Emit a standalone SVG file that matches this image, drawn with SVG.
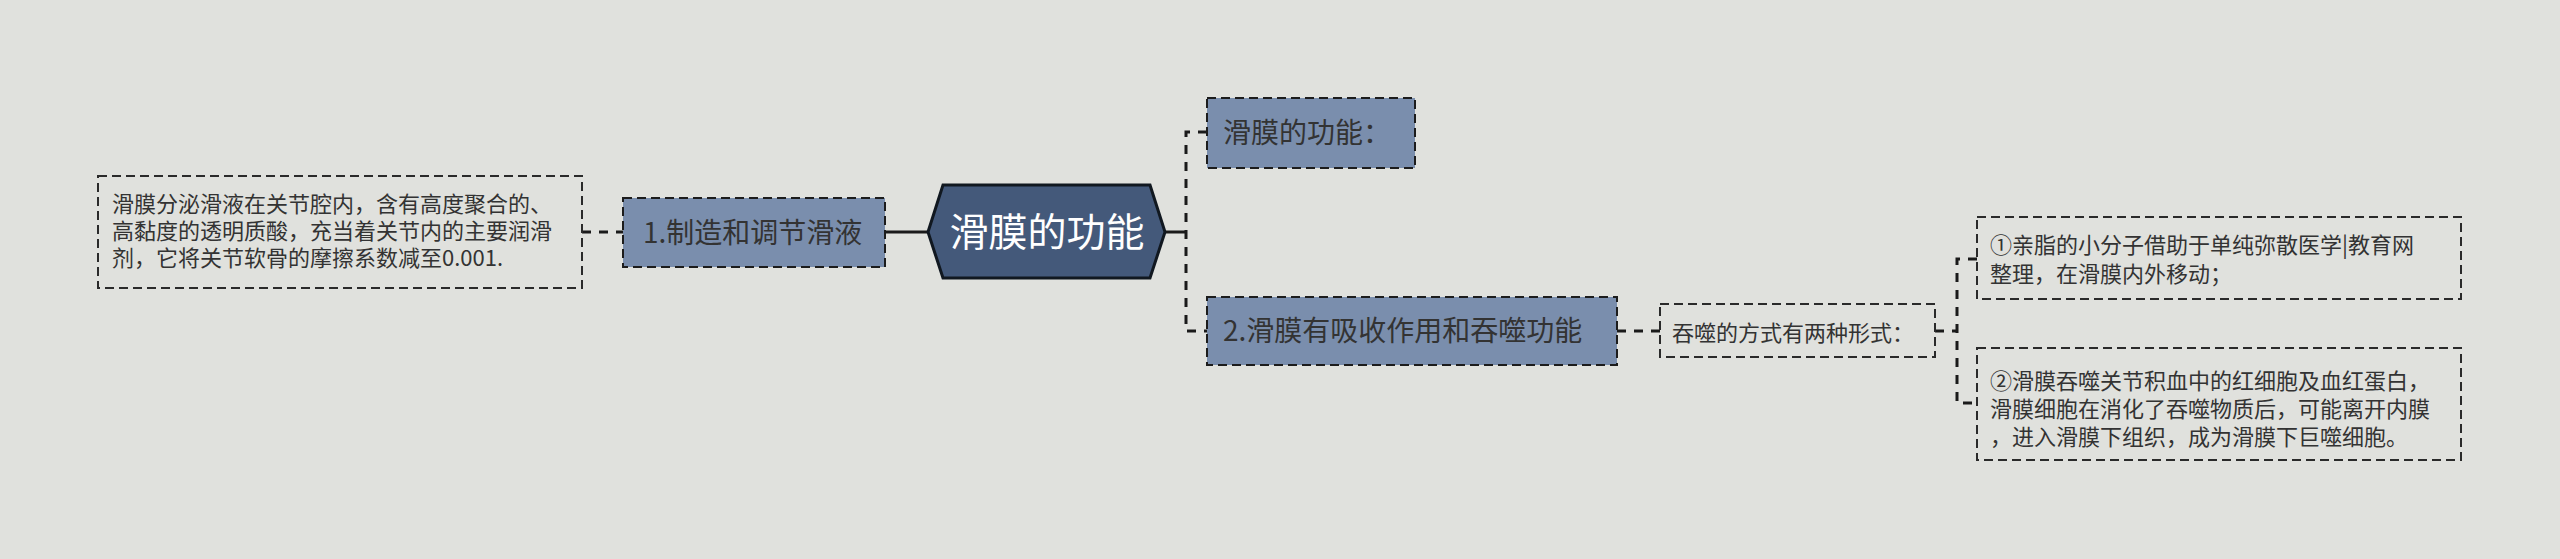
<svg xmlns="http://www.w3.org/2000/svg" width="2560" height="559" viewBox="0 0 2560 559">
<style>
text{font-family:"Noto Sans CJK SC","Microsoft YaHei",sans-serif;fill:#333333}
.t22{font-size:22px}
.t28{font-size:28px}
.root{font-size:39px;fill:#ffffff}
.box{fill:#7a8ead;stroke:#1c1c1c;stroke-width:2;stroke-dasharray:9 5}
.note{fill:none;stroke:#2a2a2a;stroke-width:2;stroke-dasharray:9 5}
.dash{fill:none;stroke:#1a1a1a;stroke-width:3;stroke-dasharray:9 8}
.solid{fill:none;stroke:#1a1a1a;stroke-width:3}
</style>
<rect x="0" y="0" width="2560" height="559" fill="#e0e1dd"/>
<g id="connectors">
<line class="dash" x1="582" y1="232" x2="623" y2="232"/>
<line class="solid" x1="885" y1="232" x2="928" y2="232"/>
<line class="solid" x1="1165" y1="232" x2="1186" y2="232"/>
<path class="dash" d="M1207,132 H1186 V331 H1207"/>
<line class="dash" x1="1617" y1="331" x2="1660" y2="331"/>
<line class="dash" x1="1935" y1="331" x2="1957" y2="331"/>
<path class="dash" d="M1977,259 H1957 V403 H1977"/>
</g>
<g id="root">
<polygon points="928,232 943,185 1150,185 1165,232 1150,278 943,278" fill="#44597a" stroke="#111820" stroke-width="3"/>
<text class="root" x="1047" y="246" text-anchor="middle">滑膜的功能</text>
</g>
<g id="node-left-text">
<rect class="note" x="98" y="176" width="484" height="112"/>
<text class="t22" x="112" y="212">滑膜分泌滑液在关节腔内，含有高度聚合的、</text>
<text class="t22" x="112" y="239">高黏度的透明质酸，充当着关节内的主要润滑</text>
<text class="t22" x="112" y="266">剂，它将关节软骨的摩擦系数减至0.001.</text>
</g>
<g id="node-1">
<rect class="box" x="623" y="198" width="262" height="69"/>
<text class="t28" x="643" y="243">1.制造和调节滑液</text>
</g>
<g id="node-func">
<rect class="box" x="1207" y="98" width="208" height="70"/>
<text class="t28" x="1223" y="143">滑膜的功能：</text>
</g>
<g id="node-2">
<rect class="box" x="1207" y="297" width="410" height="68"/>
<text class="t28" x="1223" y="341">2.滑膜有吸收作用和吞噬功能</text>
</g>
<g id="node-forms">
<rect class="note" x="1660" y="304" width="275" height="53"/>
<text class="t22" x="1672" y="341">吞噬的方式有两种形式：</text>
</g>
<g id="node-a">
<rect class="note" x="1977" y="217" width="484" height="82"/>
<text class="t22" x="1990" y="253">①亲脂的小分子借助于单纯弥散医学|教育网</text>
<text class="t22" x="1990" y="282">整理，在滑膜内外移动；</text>
</g>
<g id="node-b">
<rect class="note" x="1977" y="348" width="484" height="112"/>
<text class="t22" x="1990" y="389">②滑膜吞噬关节积血中的红细胞及血红蛋白，</text>
<text class="t22" x="1990" y="417">滑膜细胞在消化了吞噬物质后，可能离开内膜</text>
<text class="t22" x="1990" y="445">，进入滑膜下组织，成为滑膜下巨噬细胞。</text>
</g>
</svg>
